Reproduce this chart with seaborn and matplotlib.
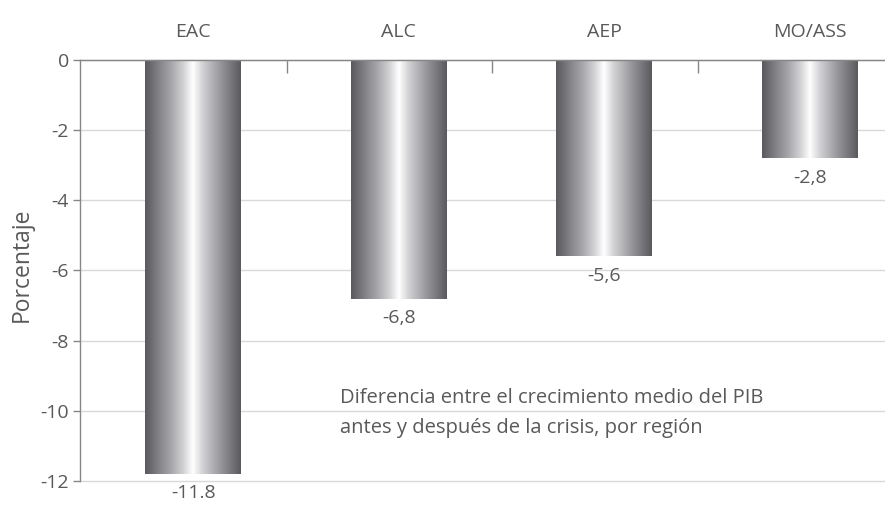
import numpy as np
import pandas as pd
import matplotlib
matplotlib.use("Agg")
import matplotlib.pyplot as plt
from matplotlib.colors import LinearSegmentedColormap
import seaborn as sns

# Data
regions = ["EAC", "ALC", "AEP", "MO/ASS"]
values = [-11.8, -6.8, -5.6, -2.8]
value_labels = ["-11.8", "-6,8", "-5,6", "-2,8"]
y_ticks = [0, -2, -4, -6, -8, -10, -12]

note_lines = ["Diferencia entre el crecimiento medio del PIB",
              "antes y después de la crisis, por región"]

sns.set_theme(style="white")
plt.rcParams["font.family"] = ["Open Sans", "DejaVu Sans"]
text_color = "#595959"
fs = 14

df = pd.DataFrame({"region": regions, "value": values})

fig = plt.figure(figsize=(8.85, 5.07), dpi=100)
ax = fig.add_axes([80 / 885, 1 - 481 / 507, 810 / 885, 421 / 507])

sns.barplot(data=df, x="region", y="value", ax=ax, width=0.465,
            color="#888888", saturation=1, linewidth=0, zorder=2)

ax.set_ylim(-12, 0)
ax.set_xlim(-0.55, 3.39)

# Cylindrical shading inside each bar
shade = LinearSegmentedColormap.from_list("cyl", [
    (0.00, "#5a5a5e"), (0.12, "#7c7c80"), (0.28, "#a9a9ad"),
    (0.40, "#d2d2d5"), (0.50, "#ffffff"), (0.60, "#d3d3d6"),
    (0.75, "#a3a3a7"), (0.90, "#77777b"), (1.00, "#5a5a5e")])
grad = np.linspace(0, 1, 256).reshape(1, -1)
for patch in ax.patches:
    x0, y0 = patch.get_x(), patch.get_y()
    w, h = patch.get_width(), patch.get_height()
    im = ax.imshow(grad, cmap=shade, aspect="auto", zorder=3,
                   extent=(x0, x0 + w, y0 + h, y0), interpolation="bicubic")
    im.set_clip_path(patch)

# Value labels under each bar
for i, (v, lab) in enumerate(zip(values, value_labels)):
    ax.annotate(lab, xy=(i, v), xytext=(0, -14), textcoords="offset points",
                ha="center", va="center", fontsize=fs, color=text_color)

# Axes styling
ax.set_yticks(y_ticks)
ax.set_yticklabels([str(t) for t in y_ticks])
ax.yaxis.grid(True, color="#d9d9d9", linewidth=1, zorder=0)
ax.set_axisbelow(True)
for gl in ax.get_ygridlines():
    gl.set_clip_on(False)
ax.tick_params(axis="y", left=True, length=5, width=1, color="#868686",
               labelsize=fs, labelcolor=text_color, pad=3)

ax.xaxis.tick_top()
ax.set_xticks(range(len(regions)))
ax.set_xticklabels(regions)
ax.set_xticks([0.455, 1.455, 2.455], minor=True)
ax.tick_params(axis="x", which="major", top=True, length=0,
               labelsize=fs, labelcolor=text_color, pad=14)
ax.tick_params(axis="x", which="minor", top=True, direction="in",
               length=9, width=1, color="#868686")
ax.set_xlabel("")
ax.set_ylabel("")

for side in ["right", "bottom"]:
    ax.spines[side].set_visible(False)
for side in ["left", "top"]:
    ax.spines[side].set_color("#868686")
    ax.spines[side].set_linewidth(1)
ax.spines["top"].set_zorder(4)

fig.text(22 / 885, 1 - 265 / 507, "Porcentaje", rotation=90, ha="center",
         va="center", fontsize=16.5, color=text_color)

for k, line in enumerate(note_lines):
    fig.text(340 / 885, 1 - (403 + 30 * k) / 507, line, ha="left",
             va="baseline", fontsize=14.5, color=text_color)

fig.savefig("out.png", dpi=100)
